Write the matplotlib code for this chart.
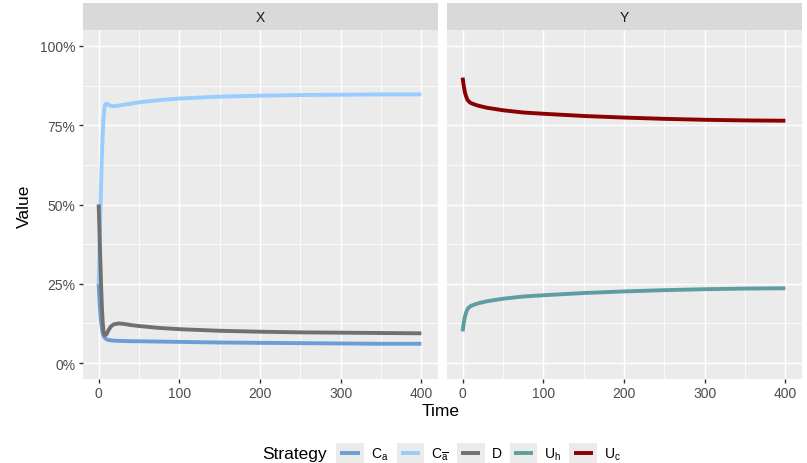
import matplotlib
matplotlib.use("Agg")
import matplotlib.pyplot as plt
from matplotlib.lines import Line2D
from matplotlib.patches import Rectangle
from matplotlib.legend_handler import HandlerLine2D

plt.rcParams['font.family'] = ['Liberation Sans', 'DejaVu Sans']
plt.rcParams['mathtext.fontset'] = 'custom'
plt.rcParams['mathtext.rm'] = 'Liberation Sans'
plt.rcParams['mathtext.it'] = 'Liberation Sans:italic'

# time points (dense at the start where the transient happens)
time_x = [0, 1, 2, 3, 4, 5, 6, 7, 8, 10, 12, 15, 18, 20, 25, 30, 40, 50, 75, 100,
          150, 200, 250, 300, 350, 400]
ca = [0.25, 0.20, 0.16, 0.13, 0.11, 0.095, 0.087, 0.082, 0.079, 0.075, 0.073, 0.072,
      0.071, 0.071, 0.070, 0.070, 0.069, 0.069, 0.068, 0.067, 0.065, 0.064, 0.063,
      0.062, 0.061, 0.061]
ca_bar = [0.25, 0.35, 0.46, 0.56, 0.65, 0.72, 0.77, 0.80, 0.815, 0.818, 0.815, 0.811,
          0.810, 0.810, 0.812, 0.814, 0.818, 0.822, 0.829, 0.834, 0.840, 0.843, 0.845,
          0.846, 0.847, 0.847]
d = [0.50, 0.42, 0.33, 0.25, 0.18, 0.13, 0.10, 0.09, 0.088, 0.092, 0.103, 0.115,
     0.121, 0.123, 0.125, 0.124, 0.120, 0.117, 0.111, 0.107, 0.102, 0.099, 0.097,
     0.096, 0.095, 0.094]

time_y = [0, 1, 2, 3, 4, 5, 6, 8, 10, 15, 20, 30, 50, 75, 100, 150, 200, 250, 300, 350, 400]
uc = [0.90, 0.88, 0.865, 0.852, 0.843, 0.836, 0.830, 0.824, 0.820, 0.815, 0.811, 0.805,
      0.797, 0.790, 0.786, 0.779, 0.774, 0.770, 0.767, 0.765, 0.764]
uh = [0.10, 0.12, 0.135, 0.148, 0.157, 0.164, 0.170, 0.176, 0.180, 0.185, 0.189, 0.195,
      0.203, 0.210, 0.214, 0.221, 0.226, 0.230, 0.233, 0.235, 0.236]

labels = [r'C$_\mathrm{a}$', r'C$_{\overline{\mathrm{a}}}$', 'D', r'U$_\mathrm{h}$', r'U$_\mathrm{c}$']
colors = ['#6B9FD3', '#99CCFF', '#707070', '#5F9EA0', '#8B0000']

W, H = 807, 464
fig = plt.figure(figsize=(W / 100, H / 100), dpi=100)

def px(x0, y0, x1, y1):
    return [x0 / W, 1 - y1 / H, (x1 - x0) / W, (y1 - y0) / H]

panel_bg = '#EBEBEB'
lw = 2.8

def style(ax, show_y):
    ax.set_facecolor(panel_bg)
    for s in ax.spines.values():
        s.set_visible(False)
    ax.set_xlim(-20, 420)
    ax.set_ylim(-0.05, 1.05)
    ax.set_xticks([0, 100, 200, 300, 400])
    ax.set_xticks([50, 150, 250, 350], minor=True)
    ax.set_yticks([0, 0.25, 0.5, 0.75, 1.0])
    ax.set_yticks([0.125, 0.375, 0.625, 0.875], minor=True)
    ax.grid(True, which='major', color='white', linewidth=1.05)
    ax.grid(True, which='minor', color='white', linewidth=0.55)
    ax.set_axisbelow(True)
    ax.tick_params(which='major', length=3, width=1.0, color='#333333',
                   labelcolor='#4D4D4D', labelsize=10, pad=2)
    ax.tick_params(which='minor', length=0)
    if show_y:
        ax.set_yticklabels(['0%', '25%', '50%', '75%', '100%'])
    else:
        ax.tick_params(axis='y', which='both', left=False, labelleft=False)

ax1 = fig.add_axes(px(82.5, 31, 437.5, 380))
ax2 = fig.add_axes(px(446.5, 31, 801.5, 380))
style(ax1, True)
style(ax2, False)

ax1.plot(time_x, ca, color=colors[0], lw=lw, solid_capstyle='butt')
ax1.plot(time_x, ca_bar, color=colors[1], lw=lw, solid_capstyle='butt')
ax1.plot(time_x, d, color=colors[2], lw=lw, solid_capstyle='butt')
ax2.plot(time_y, uh, color=colors[3], lw=lw, solid_capstyle='butt')
ax2.plot(time_y, uc, color=colors[4], lw=lw, solid_capstyle='butt')

# facet strips
for (x0, x1), name in [((82.5, 437.5), 'X'), ((446.5, 801.5), 'Y')]:
    sax = fig.add_axes(px(x0, 4, x1, 31))
    sax.set_facecolor('#D9D9D9')
    sax.set_xticks([])
    sax.set_yticks([])
    for s in sax.spines.values():
        s.set_visible(False)
    sax.text(0.5, 0.5, name, ha='center', va='center', fontsize=10, color='#1A1A1A',
             transform=sax.transAxes)

fig.text(24 / W, 1 - 206 / H, 'Value', rotation=90, ha='center', va='center', fontsize=12.5)
fig.text(441 / W, 1 - 412 / H, 'Time', ha='center', va='center', fontsize=12.5)


class KeyHandler(HandlerLine2D):
    def create_artists(self, legend, orig_handle, xdescent, ydescent, width, height,
                       fontsize, trans):
        bg = Rectangle((-xdescent, -ydescent), width, height, facecolor=panel_bg,
                       edgecolor='none', transform=trans)
        y = height / 2 - ydescent
        ln = Line2D([-xdescent + width * 0.15, -xdescent + width * 0.85], [y, y],
                    color=orig_handle.get_color(), lw=orig_handle.get_linewidth(),
                    solid_capstyle='butt', transform=trans)
        return [bg, ln]


handles = [Line2D([], [], color=c, lw=lw) for c in colors]
fig.legend(handles, labels, ncol=5, loc='center', bbox_to_anchor=(478.5 / W, 1 - 454 / H),
           frameon=False, fontsize=10, handlelength=1.98, handleheight=1.75,
           handletextpad=0.5, columnspacing=0.6, borderpad=0, borderaxespad=0,
           handler_map={Line2D: KeyHandler()})
fig.text(262 / W, 1 - 455 / H, 'Strategy', ha='left', va='center', fontsize=12.5)

fig.savefig('out.png', dpi=100)
